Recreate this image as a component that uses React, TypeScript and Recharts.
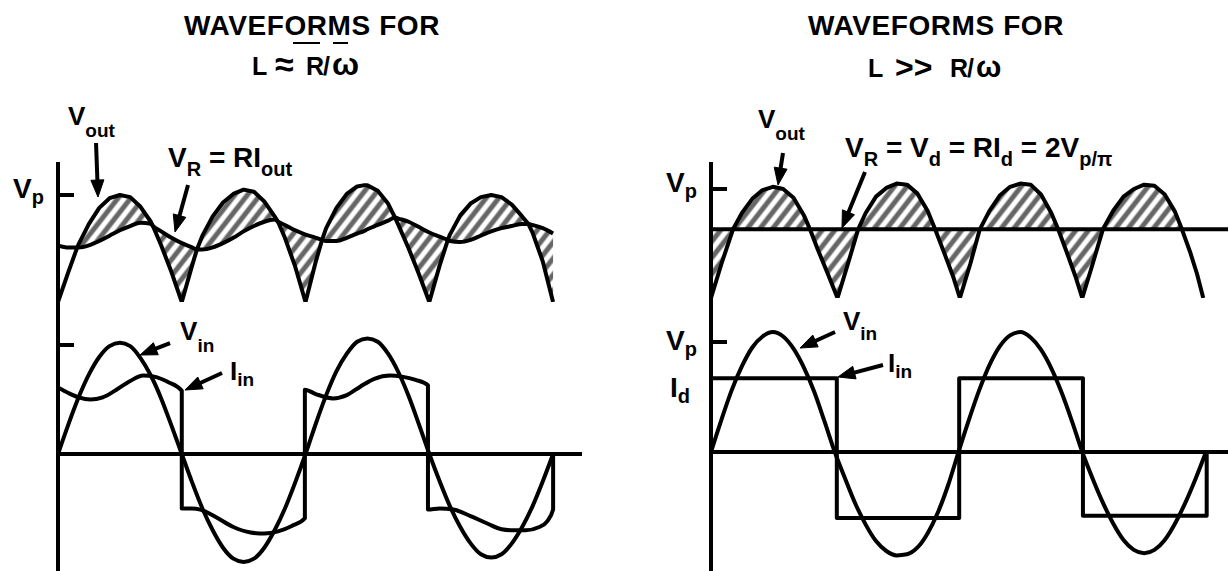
import React from "react";
import {
  Area,
  ComposedChart,
  Line,
  ReferenceDot,
  ReferenceLine,
  XAxis,
  YAxis,
} from "recharts";

const FONT = '"Liberation Sans", Arial, Helvetica, sans-serif';
const AXIS = { stroke: "#000", strokeWidth: 4 };

// All angles are ωt in degrees, all levels in units of V_p.

// L ≈ R/ω : rectified output |V_in| and the rippling V_R = R·I_out
const leftTopAngle = [
  0, 15, 28, 30, 45, 60, 75, 90, 105, 120, 135, 138, 150, 165, 180, 195, 202,
  210, 225, 240, 255, 270, 285, 300, 315, 320, 330, 345, 360, 375, 384, 390,
  405, 420, 435, 444, 450, 465, 480, 490, 495, 510, 525, 540, 555, 567, 570,
  585, 600, 615, 630, 645, 660, 675, 684, 690, 705, 720,
];
const leftRectified = [
  0, 0.28, 0.51, 0.54, 0.73, 0.88, 0.97, 1.0, 0.98, 0.89, 0.75, 0.71, 0.53,
  0.28, 0, 0.34, 0.49, 0.62, 0.8, 0.93, 1.01, 1.05, 1.03, 0.94, 0.8, 0.75, 0.6,
  0.33, 0, 0.38, 0.58, 0.69, 0.88, 1.01, 1.08, 1.09, 1.09, 1.04, 0.92, 0.79,
  0.72, 0.5, 0.26, 0, 0.34, 0.58, 0.63, 0.81, 0.92, 0.98, 1.0, 0.98, 0.91, 0.8,
  0.73, 0.65, 0.38, 0,
];
const leftVR = [
  0.53, 0.51, 0.51, 0.51, 0.53, 0.57, 0.62, 0.67, 0.71, 0.74, 0.73, 0.71, 0.66,
  0.6, 0.55, 0.51, 0.49, 0.49, 0.51, 0.55, 0.6, 0.66, 0.71, 0.75, 0.77, 0.75,
  0.72, 0.67, 0.63, 0.6, 0.58, 0.57, 0.57, 0.6, 0.64, 0.66, 0.68, 0.72, 0.76,
  0.79, 0.78, 0.75, 0.7, 0.65, 0.61, 0.58, 0.57, 0.56, 0.58, 0.62, 0.66, 0.69,
  0.71, 0.73, 0.73, 0.72, 0.69, 0.64,
];
const leftHatchSpan = [28, 720];

// L >> R/ω : rectified output and the flat V_d = 2V_p/π
const rightTopAngle = [
  0, 15, 32, 45, 60, 75, 90, 105, 120, 135, 144, 155, 170, 184, 199, 214, 225,
  240, 255, 270, 285, 300, 315, 326, 340, 352, 362, 377, 391, 405, 420, 435,
  450, 465, 480, 495, 505, 518, 530, 540, 555, 570, 585, 600, 615, 630, 645,
  660, 675, 685, 697, 707, 716, 752,
];
const rightRectified = [
  0, 0.31, 0.63, 0.78, 0.91, 0.99, 1.02, 1.0, 0.92, 0.76, 0.63, 0.45, 0.22, 0,
  0.31, 0.63, 0.78, 0.93, 1.01, 1.05, 1.04, 0.96, 0.8, 0.63, 0.4, 0.2, 0, 0.31,
  0.63, 0.8, 0.94, 1.02, 1.05, 1.04, 0.95, 0.78, 0.63, 0.41, 0.2, 0, 0.31, 0.63,
  0.8, 0.93, 1.0, 1.04, 1.03, 0.95, 0.79, 0.63, 0.42, 0.22, 0, null,
];
const rightVd = 0.63;
const rightHatchSpan = [0, 685];

// input voltage, sampled every 15°
const vinAngle = [
  0, 15, 30, 45, 60, 75, 90, 105, 120, 135, 150, 165, 180, 195, 210, 225, 240,
  255, 270, 285, 300, 315, 330, 345, 360, 375, 390, 405, 420, 435, 450, 465,
  480, 495, 510, 525, 540, 555, 570, 585, 600, 615, 630, 645, 660, 675, 690,
  705, 720,
];
const leftVin = [
  0, 0.27, 0.52, 0.73, 0.89, 0.99, 1.02, 0.99, 0.88, 0.72, 0.51, 0.26, 0,
  -0.26, -0.5, -0.7, -0.86, -0.96, -0.99, -0.96, -0.86, -0.7, -0.5, -0.26, 0,
  0.28, 0.54, 0.76, 0.92, 1.03, 1.06, 1.03, 0.92, 0.75, 0.53, 0.27, 0, -0.25,
  -0.48, -0.67, -0.82, -0.92, -0.95, -0.92, -0.82, -0.67, -0.48, -0.25, 0,
];
const rightVin = [
  0, 0.29, 0.56, 0.78, 0.95, 1.05, 1.09, 1.05, 0.94, 0.77, 0.55, 0.28, 0,
  -0.24, -0.47, -0.66, -0.81, -0.9, -0.94, -0.93, -0.87, -0.74, -0.55, -0.3, 0,
  0.29, 0.56, 0.79, 0.96, 1.06, 1.09, 1.04, 0.93, 0.76, 0.54, 0.28, 0, -0.24,
  -0.46, -0.65, -0.8, -0.89, -0.92, -0.89, -0.8, -0.65, -0.46, -0.24, 0,
];

// input current (repeated angles are the switching edges)
const leftIinAngle = [
  0, 15, 30, 47, 65, 85, 105, 124, 140, 160, 180, 180, 195, 207, 230, 255, 280,
  300, 320, 340, 359, 359, 375, 400, 420, 440, 460, 483, 500, 520, 538, 538,
  555, 575, 600, 625, 645, 662, 680, 700, 711, 720, 720,
];
const leftIin = [
  0.61, 0.56, 0.52, 0.5, 0.52, 0.59, 0.67, 0.72, 0.71, 0.66, 0.58, -0.5, -0.5,
  -0.51, -0.58, -0.67, -0.72, -0.73, -0.71, -0.66, -0.59, 0.59, 0.55, 0.51,
  0.54, 0.62, 0.69, 0.72, 0.71, 0.68, 0.63, -0.51, -0.5, -0.51, -0.57, -0.64,
  -0.69, -0.7, -0.7, -0.67, -0.62, -0.51, 0,
];
const rightId = 0.67;
const rightIinAngle = [0, 183, 183, 361, 361, 541, 541, 721, 721];
const rightIin = [rightId, rightId, -0.6, -0.6, rightId, rightId, -0.58, -0.58, 0];

const Vp = 1;

type Part = [string, boolean?];

function buildTopRows(
  angle: number[],
  rect: (number | null)[],
  level: (i: number) => number | null,
  span: number[]
) {
  return angle.map((x, i) => {
    const a = rect[i];
    const r = level(i);
    const inside = x >= span[0] && x <= span[1] && a != null && r != null;
    return {
      x,
      arch: a,
      vr: r,
      band: inside ? [Math.min(a as number, r as number), Math.max(a as number, r as number)] : null,
    };
  });
}

const leftTopRows = buildTopRows(leftTopAngle, leftRectified, (i) => leftVR[i] ?? null, leftHatchSpan);
const rightTopRows = buildTopRows(rightTopAngle, rightRectified, () => rightVd, rightHatchSpan);
const toRows = (xs: number[], ys: number[]) => xs.map((x, i) => ({ x, v: ys[i] }));
const leftVinRows = toRows(vinAngle, leftVin);
const rightVinRows = toRows(vinAngle, rightVin);
const leftIinRows = toRows(leftIinAngle, leftIin);
const rightIinRows = toRows(rightIinAngle, rightIin);

function lettering(parts: Part[], size: number, subSize: number, drop: number, anchor = "start") {
  return (p: any) => (
    <text
      x={p.cx}
      y={p.cy}
      fontFamily={FONT}
      fontWeight="bold"
      fontSize={size}
      textAnchor={anchor}
      fill="#000"
      style={{ whiteSpace: "pre" }}
    >
      {parts.map(([t, sub], i) => {
        const prevSub = i > 0 && !!parts[i - 1][1];
        const dy = sub && !prevSub ? drop : !sub && prevSub ? -drop : 0;
        return (
          <tspan key={i} dy={dy} fontSize={sub ? subSize : size}>
            {t}
          </tspan>
        );
      })}
    </text>
  );
}

const ArrowShape = (p: any) => {
  const { x1, y1, x2, y2 } = p;
  const len = Math.hypot(x2 - x1, y2 - y1) || 1;
  const ux = (x2 - x1) / len;
  const uy = (y2 - y1) / len;
  const bx = x2 - ux * 17;
  const by = y2 - uy * 17;
  return (
    <g>
      <line x1={x1} y1={y1} x2={bx + ux * 2} y2={by + uy * 2} stroke="#000" strokeWidth={4} />
      <polygon
        points={`${x2},${y2} ${bx - uy * 6.5},${by + ux * 6.5} ${bx + uy * 6.5},${by - ux * 6.5}`}
        fill="#000"
        stroke="#000"
        strokeWidth={1}
        strokeLinejoin="round"
      />
    </g>
  );
};

const note = (key: string, at: [number, number], parts: Part[], size = 26, sub = 19, drop = 10) => (
  <ReferenceDot key={key} x={at[0]} y={at[1]} r={0} ifOverflow="visible" shape={lettering(parts, size, sub, drop)} />
);

const arrow = (key: string, from: [number, number], to: [number, number]) => (
  <ReferenceLine
    key={key}
    ifOverflow="visible"
    segment={[
      { x: from[0], y: from[1] },
      { x: to[0], y: to[1] },
    ]}
    shape={ArrowShape}
  />
);

type TickLabel = { parts: Part[]; mark: boolean; gap: number; dy: number };

const axisTick = (labels: Record<string, TickLabel>) => (p: any) => {
  const lab = labels[String(p.payload.value)];
  if (!lab) return <g />;
  return (
    <g>
      {lab.mark && <line x1={p.x} x2={p.x + 16} y1={p.y} y2={p.y} stroke="#000" strokeWidth={4} />}
      {lab.parts.length > 0 && lettering(lab.parts, 28, 20, 6, "end")({ cx: p.x - lab.gap, cy: p.y + lab.dy })}
    </g>
  );
};

const vpTop: TickLabel = { parts: [["V"], ["p", true]], mark: true, gap: 14, dy: 3 };

const line = {
  stroke: "#000",
  strokeWidth: 4,
  strokeLinejoin: "round",
  dot: false,
  activeDot: false,
  isAnimationActive: false,
} as const;

// bold "///" shading between the rectified wave and V_R
function HatchDefs({ id }: { id: string }) {
  return (
    <pattern id={id} patternUnits="userSpaceOnUse" width={10} height={10} patternTransform="rotate(38)">
      <rect x={2.5} y={-1} width={5} height={12} fill="#000" />
    </pattern>
  );
}

export default function App() {
  return (
    <div style={{ position: "absolute", left: 0, top: 0, width: 1229, height: 571, background: "#fff", overflow: "hidden" }}>
      <svg width={1229} height={100} style={{ position: "absolute", left: 0, top: 0 }}>
        <g fontFamily={FONT} fontWeight="bold" fill="#000">
          <text x={312} y={35} fontSize={28} letterSpacing={0.6} textAnchor="middle">WAVEFORMS FOR</text>
          <text x={252} y={75} fontSize={25} style={{ whiteSpace: "pre" }}>
            <tspan>L</tspan>
            <tspan x={275} fontSize={34} dy={1}>≈</tspan>
            <tspan x={306} fontSize={25} dy={-1}>R</tspan>
            <tspan x={323}>/</tspan>
            <tspan x={332} fontSize={32}>ω</tspan>
          </text>
          <text x={936} y={35} fontSize={28} letterSpacing={0.6} textAnchor="middle">WAVEFORMS FOR</text>
          <text x={868} y={77} fontSize={25} style={{ whiteSpace: "pre" }}>
            <tspan>L</tspan>
            <tspan x={895} fontSize={32} dy={1}>&gt;&gt;</tspan>
            <tspan x={950} fontSize={25} dy={-1}>R</tspan>
            <tspan x={967}>/</tspan>
            <tspan x={976} fontSize={30}>ω</tspan>
          </text>
        </g>
        <line x1={293} x2={320} y1={43} y2={43} stroke="#000" strokeWidth={2} />
        <line x1={333} x2={348} y1={43} y2={43} stroke="#000" strokeWidth={2} />
      </svg>

      {/* left: output side */}
      <div style={{ position: "absolute", left: 0, top: 0 }}>
        <ComposedChart width={573} height={306} data={leftTopRows} margin={{ top: 162, right: 0, bottom: 4, left: 0 }}>
          <defs>
            <HatchDefs id="hatch-left" />
          </defs>
          <XAxis type="number" dataKey="x" domain={[0, 749]} allowDataOverflow height={0} tick={false} tickLine={false} axisLine={AXIS} />
          <YAxis
            type="number"
            domain={[0, 1.3084]}
            allowDataOverflow
            width={58}
            ticks={[Vp]}
            tickSize={0}
            tickMargin={0}
            tickLine={false}
            axisLine={AXIS}
            tick={axisTick({ [String(Vp)]: vpTop })}
          />
          <Area dataKey="band" type="linear" stroke="none" fill="url(#hatch-left)" isAnimationActive={false} activeDot={false} />
          <Line dataKey="arch" type="linear" {...line} />
          <Line dataKey="vr" type="monotone" {...line} />
          {note("vout", [14.5, 1.654], [["V"], ["out", true]], 26, 19, 12)}
          {arrow("vout-a", [55.3, 1.486], [58.2, 0.981])}
          {note("vr", [160, 1.262], [["V"], ["R", true], [" = RI"], ["out", true]], 28, 20, 9)}
          {arrow("vr-a", [189.1, 1.093], [170.2, 0.654])}
        </ComposedChart>
      </div>

      {/* left: input side */}
      <div style={{ position: "absolute", left: 0, top: 298 }}>
        <ComposedChart width={582} height={273} margin={{ top: 4, right: 0, bottom: 0, left: 0 }}>
          <XAxis type="number" dataKey="x" domain={[0, 762]} allowDataOverflow hide />
          <YAxis
            type="number"
            domain={[-1.0734, 1.3945]}
            allowDataOverflow
            width={58}
            ticks={[Vp]}
            tickSize={0}
            tickMargin={0}
            tickLine={false}
            axisLine={AXIS}
            tick={axisTick({ [String(Vp)]: { parts: [], mark: true, gap: 0, dy: 0 } })}
          />
          <ReferenceLine y={0} stroke="#000" strokeWidth={4} />
          <Line data={leftVinRows} dataKey="v" type="monotone" {...line} />
          <Line data={leftIinRows} dataKey="v" type="monotone" {...line} />
          {note("vin", [177.5, 1.046], [["V"], ["in", true]], 26, 19, 12)}
          {arrow("vin-a", [162.9, 1.018], [119.3, 0.908])}
          {note("iin", [250.2, 0.679], [["I"], ["in", true]], 26, 19, 6)}
          {arrow("iin-a", [238.5, 0.743], [184.7, 0.587])}
        </ComposedChart>
      </div>

      {/* right: output side */}
      <div style={{ position: "absolute", left: 653, top: 0 }}>
        <ComposedChart width={575} height={302} data={rightTopRows} margin={{ top: 162, right: 0, bottom: 4, left: 0 }}>
          <defs>
            <HatchDefs id="hatch-right" />
          </defs>
          <XAxis type="number" dataKey="x" domain={[0, 752]} allowDataOverflow height={0} tick={false} tickLine={false} axisLine={AXIS} />
          <YAxis
            type="number"
            domain={[0, 1.2477]}
            allowDataOverflow
            width={58}
            ticks={[Vp]}
            tickSize={0}
            tickMargin={0}
            tickLine={false}
            axisLine={AXIS}
            tick={axisTick({ [String(Vp)]: vpTop })}
          />
          <Area dataKey="band" type="linear" stroke="none" fill="url(#hatch-right)" isAnimationActive={false} activeDot={false} />
          <Line dataKey="arch" type="linear" {...line} />
          <Line dataKey="vr" type="linear" {...line} />
          {note("vout", [68.4, 1.56], [["V"], ["out", true]], 26, 19, 12)}
          {arrow("vout-a", [104.7, 1.33], [97.5, 1.037])}
          {note(
            "vr",
            [194.9, 1.294],
            [["V"], ["R", true], [" = V"], ["d", true], [" = RI"], ["d", true], [" = 2V"], ["p/π", true]],
            28,
            20,
            9
          )}
          {arrow("vr-a", [224, 1.156], [190.5, 0.642])}
        </ComposedChart>
      </div>

      {/* right: input side */}
      <div style={{ position: "absolute", left: 653, top: 294 }}>
        <ComposedChart width={575} height={277} margin={{ top: 4, right: 0, bottom: 0, left: 0 }}>
          <XAxis type="number" dataKey="x" domain={[0, 752]} allowDataOverflow hide />
          <YAxis
            type="number"
            domain={[-1.0818, 1.4]}
            allowDataOverflow
            width={58}
            ticks={[Vp, rightId]}
            tickSize={0}
            tickMargin={0}
            tickLine={false}
            axisLine={AXIS}
            tick={axisTick({
              [String(Vp)]: { parts: [["V"], ["p", true]], mark: true, gap: 14, dy: 8 },
              [String(rightId)]: { parts: [["I"], ["d", true]], mark: false, gap: 21, dy: 19 },
            })}
          />
          <ReferenceLine y={0} stroke="#000" strokeWidth={4} />
          <Line data={rightVinRows} dataKey="v" type="monotone" {...line} />
          <Line data={rightIinRows} dataKey="v" type="linear" {...line} />
          {note("vin", [192, 1.109], [["V"], ["in", true]], 26, 19, 10)}
          {arrow("vin-a", [180.4, 1.091], [129.5, 0.945])}
          {note("iin", [257.5, 0.727], [["I"], ["in", true]], 26, 19, 6)}
          {arrow("iin-a", [250.2, 0.791], [184.7, 0.682])}
        </ComposedChart>
      </div>
    </div>
  );
}
